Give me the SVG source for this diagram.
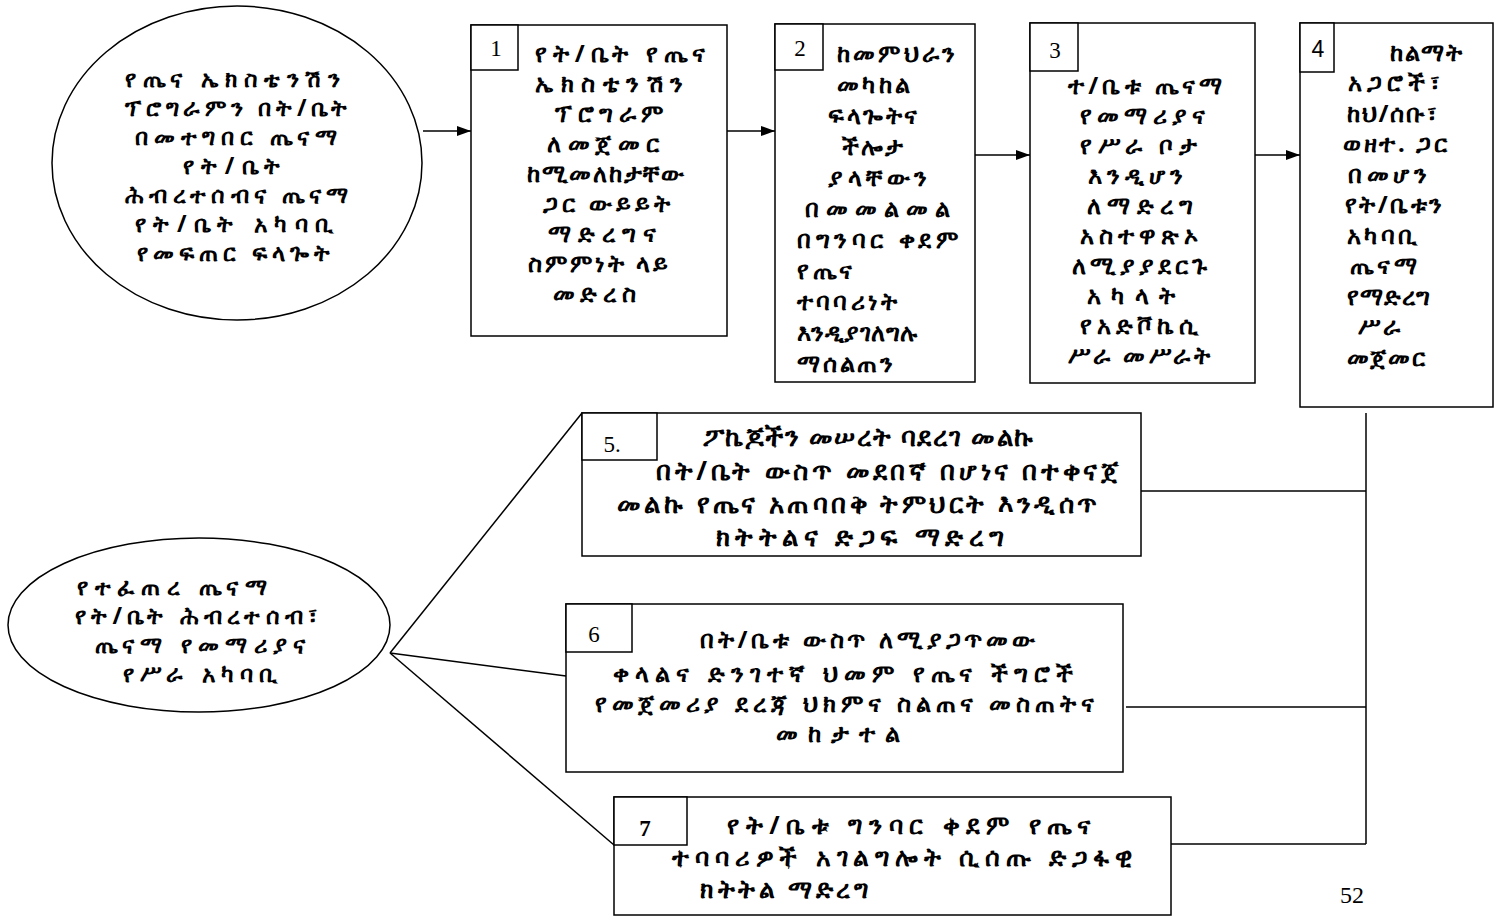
<svg xmlns="http://www.w3.org/2000/svg" width="1495" height="921" viewBox="0 0 1495 921">
<style>
.shape{fill:#fff;stroke:#000;stroke-width:1.5}
.ln{stroke:#000;stroke-width:1.5;fill:none}
.t{font-family:"Noto Sans","DejaVu Sans",sans-serif;font-weight:bold;font-size:24px;fill:#000}
.c{font-size:23px}
.b5{font-size:26px}
.b6{font-size:24px}
.b7{font-size:25px}
.num{font-family:"Liberation Serif",serif;font-size:23px;fill:#000;text-anchor:middle}
</style>
<defs>
<marker id="ah" markerWidth="14" markerHeight="10" refX="14" refY="5" orient="auto" markerUnits="userSpaceOnUse">
<path d="M0,0 L14,5 L0,10 Z" fill="#000"/>
</marker>
</defs>
<rect width="1495" height="921" fill="#fff"/>
<g id="connectors">
<line class="ln" x1="423" y1="131" x2="471" y2="131" marker-end="url(#ah)"/>
<line class="ln" x1="727" y1="131" x2="775" y2="131" marker-end="url(#ah)"/>
<line class="ln" x1="975" y1="155" x2="1030" y2="155" marker-end="url(#ah)"/>
<line class="ln" x1="1255" y1="155" x2="1300" y2="155" marker-end="url(#ah)"/>
<line class="ln" x1="390" y1="653" x2="582" y2="413"/>
<line class="ln" x1="390" y1="653" x2="566" y2="676"/>
<line class="ln" x1="390" y1="653" x2="614" y2="845"/>
<line class="ln" x1="1366" y1="413" x2="1366" y2="844"/>
<line class="ln" x1="1141" y1="491" x2="1366" y2="491"/>
<line class="ln" x1="1126" y1="707" x2="1366" y2="707"/>
<line class="ln" x1="1171" y1="844" x2="1366" y2="844"/>
</g>
<g id="goal">
<ellipse class="shape" cx="237" cy="163" rx="185" ry="157"/>
<text class="t c" x="125" y="87" textLength="215" lengthAdjust="spacing">የጤና ኤክስቴንሽን</text>
<text class="t c" x="125" y="116" textLength="222" lengthAdjust="spacing">ፕሮግራምን በት/ቤት</text>
<text class="t c" x="135" y="145" textLength="202" lengthAdjust="spacing">በመተግበር ጤናማ</text>
<text class="t c" x="183" y="174" textLength="97" lengthAdjust="spacing">የት/ቤት</text>
<text class="t c" x="125" y="203" textLength="223" lengthAdjust="spacing">ሕብረተሰብና ጤናማ</text>
<text class="t c" x="135" y="232" textLength="198" lengthAdjust="spacing">የት/ቤት አካባቢ</text>
<text class="t c" x="137" y="261" textLength="193" lengthAdjust="spacing">የመፍጠር ፍላጐት</text>
</g>
<g id="step1">
<rect class="shape" x="471" y="25" width="256" height="311"/>
<rect class="shape" x="471" y="25" width="47" height="45"/>
<text class="num" x="496" y="56">1</text>
<text class="t" x="535" y="62" textLength="170" lengthAdjust="spacing">የት/ቤት የጤና</text>
<text class="t" x="535" y="92" textLength="148" lengthAdjust="spacing">ኤክስቴንሽን</text>
<text class="t" x="555" y="122" textLength="108" lengthAdjust="spacing">ፕሮግራም</text>
<text class="t" x="547" y="152" textLength="112" lengthAdjust="spacing">ለመጀመር</text>
<text class="t" x="527" y="182" textLength="157" lengthAdjust="spacing">ከሚመለከታቸው</text>
<text class="t" x="543" y="212" textLength="127" lengthAdjust="spacing">ጋር ውይይት</text>
<text class="t" x="548" y="242" textLength="108" lengthAdjust="spacing">ማድረግና</text>
<text class="t" x="528" y="272" textLength="140" lengthAdjust="spacing">ስምምነት ላይ</text>
<text class="t" x="553" y="302" textLength="83" lengthAdjust="spacing">መድረስ</text>
</g>
<g id="step2">
<rect class="shape" x="775" y="24" width="200" height="358"/>
<rect class="shape" x="775" y="24" width="48" height="46"/>
<text class="num" x="800" y="56">2</text>
<text class="t" x="837" y="62" textLength="118" lengthAdjust="spacing">ከመምህራን</text>
<text class="t" x="837" y="93" textLength="73" lengthAdjust="spacing">መካከል</text>
<text class="t" x="828" y="124" textLength="89" lengthAdjust="spacing">ፍላጐትና</text>
<text class="t" x="842" y="155" textLength="61" lengthAdjust="spacing">ችሎታ</text>
<text class="t" x="828" y="186" textLength="99" lengthAdjust="spacing">ያላቸውን</text>
<text class="t" x="805" y="217" textLength="145" lengthAdjust="spacing">በመመልመል</text>
<text class="t" x="797" y="248" textLength="161" lengthAdjust="spacing">በግንባር ቀደም</text>
<text class="t" x="797" y="279" textLength="55" lengthAdjust="spacing">የጤና</text>
<text class="t" x="797" y="310" textLength="100" lengthAdjust="spacing">ተባባሪነት</text>
<text class="t" x="797" y="341" textLength="120" lengthAdjust="spacing">እንዲያገለግሉ</text>
<text class="t" x="797" y="372" textLength="96" lengthAdjust="spacing">ማሰልጠን</text>
</g>
<g id="step3">
<rect class="shape" x="1030" y="23" width="225" height="360"/>
<rect class="shape" x="1030" y="23" width="48" height="48"/>
<text class="num" x="1055" y="58">3</text>
<text class="t" x="1068" y="94" textLength="154" lengthAdjust="spacing">ተ/ቤቱ ጤናማ</text>
<text class="t" x="1080" y="124" textLength="125" lengthAdjust="spacing">የመማሪያና</text>
<text class="t" x="1080" y="154" textLength="117" lengthAdjust="spacing">የሥራ ቦታ</text>
<text class="t" x="1088" y="184" textLength="95" lengthAdjust="spacing">እንዲሆን</text>
<text class="t" x="1087" y="214" textLength="106" lengthAdjust="spacing">ለማድረግ</text>
<text class="t" x="1080" y="244" textLength="118" lengthAdjust="spacing">አስተዋጽኦ</text>
<text class="t" x="1072" y="274" textLength="135" lengthAdjust="spacing">ለሚያያደርጉ</text>
<text class="t" x="1087" y="304" textLength="88" lengthAdjust="spacing">አካላት</text>
<text class="t" x="1080" y="334" textLength="118" lengthAdjust="spacing">የአድቮኬሲ</text>
<text class="t" x="1068" y="364" textLength="142" lengthAdjust="spacing">ሥራ መሥራት</text>
</g>
<g id="step4">
<rect class="shape" x="1300" y="23" width="193" height="384"/>
<rect class="shape" x="1300" y="23" width="34" height="49"/>
<text class="num" x="1318" y="57" style="font-family:'Liberation Sans',sans-serif">4</text>
<text class="t" x="1390" y="61" textLength="72" lengthAdjust="spacing">ከልማት</text>
<text class="t" x="1348" y="91" textLength="92" lengthAdjust="spacing">አጋሮች፣</text>
<text class="t" x="1347" y="122" textLength="90" lengthAdjust="spacing">ከህ/ሰቡ፣</text>
<text class="t" x="1343" y="152" textLength="104" lengthAdjust="spacing">ወዘተ.  ጋር</text>
<text class="t" x="1348" y="183" textLength="79" lengthAdjust="spacing">በመሆን</text>
<text class="t" x="1345" y="213" textLength="97" lengthAdjust="spacing">የት/ቤቱን</text>
<text class="t" x="1347" y="244" textLength="70" lengthAdjust="spacing">አካባቢ</text>
<text class="t" x="1350" y="274" textLength="67" lengthAdjust="spacing">ጤናማ</text>
<text class="t" x="1347" y="305" textLength="83" lengthAdjust="spacing">የማድረግ</text>
<text class="t" x="1358" y="335" textLength="42" lengthAdjust="spacing">ሥራ</text>
<text class="t" x="1347" y="366" textLength="78" lengthAdjust="spacing">መጀመር</text>
</g>
<g id="result">
<ellipse class="shape" cx="199" cy="625" rx="191" ry="87"/>
<text class="t c" x="77" y="595" textLength="190" lengthAdjust="spacing">የተፈጠረ ጤናማ</text>
<text class="t c" x="75" y="624" textLength="242" lengthAdjust="spacing">የት/ቤት ሕብረተሰብ፣</text>
<text class="t c" x="95" y="653" textLength="210" lengthAdjust="spacing">ጤናማ የመማሪያና</text>
<text class="t c" x="123" y="682" textLength="154" lengthAdjust="spacing">የሥራ አካባቢ</text>
</g>
<g id="step5">
<rect class="shape" x="582" y="413" width="559" height="143"/>
<rect class="shape" x="582" y="413" width="75" height="47"/>
<text class="num" x="612" y="452">5.</text>
<text class="t b5" x="703" y="446" textLength="330" lengthAdjust="spacing">ፖኬጆችን መሠረት ባደረገ መልኩ</text>
<text class="t b5" x="656" y="480" textLength="462" lengthAdjust="spacing">በት/ቤት ውስጥ መደበኛ በሆነና በተቀናጀ</text>
<text class="t b5" x="617" y="513" textLength="480" lengthAdjust="spacing">መልኩ የጤና አጠባበቅ  ትምህርት እንዲሰጥ</text>
<text class="t b5" x="716" y="546" textLength="288" lengthAdjust="spacing">ክትትልና ድጋፍ ማድረግ</text>
</g>
<g id="step6">
<rect class="shape" x="566" y="604" width="557" height="168"/>
<rect class="shape" x="566" y="604" width="66" height="48"/>
<text class="num" x="594" y="642">6</text>
<text class="t b6" x="700" y="648" textLength="335" lengthAdjust="spacing">በት/ቤቱ ውስጥ  ለሚያጋጥመው</text>
<text class="t b6" x="613" y="682" textLength="460" lengthAdjust="spacing">ቀላልና ድንገተኛ ህመም የጤና ችግሮች</text>
<text class="t b6" x="595" y="712" textLength="499" lengthAdjust="spacing">የመጀመሪያ ደረጃ ህክምና ስልጠና መስጠትና</text>
<text class="t b6" x="776" y="742" textLength="124" lengthAdjust="spacing">መከታተል</text>
</g>
<g id="step7">
<rect class="shape" x="614" y="797" width="557" height="118"/>
<rect class="shape" x="614" y="797" width="73" height="48"/>
<text class="num" x="645" y="836" style="font-weight:bold">7</text>
<text class="t b7" x="727" y="834" textLength="363" lengthAdjust="spacing">የት/ቤቱ   ግንባር ቀደም   የጤና</text>
<text class="t b7" x="672" y="866" textLength="460" lengthAdjust="spacing">ተባባሪዎች አገልግሎት ሲሰጡ ድጋፋዊ</text>
<text class="t b7" x="700" y="898" textLength="168" lengthAdjust="spacing">ክትትል ማድረግ</text>
</g>
<text x="1340" y="903" style="font-family:'Liberation Serif',serif;font-size:24px;fill:#000">52</text>
</svg>
